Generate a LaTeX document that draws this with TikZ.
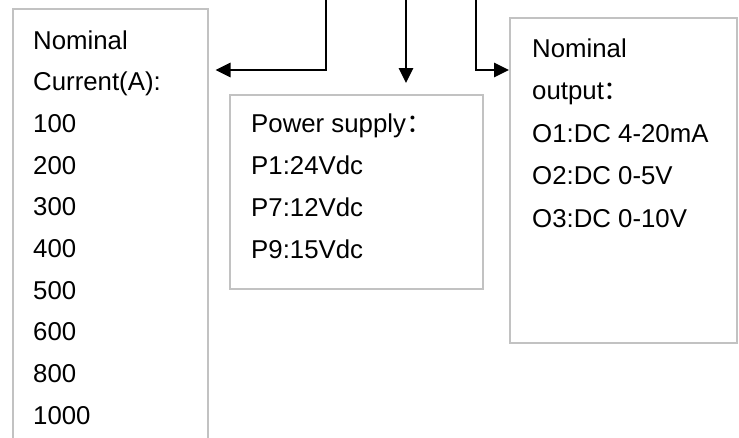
\documentclass[tikz,border=0pt]{standalone}
\usepackage{fontspec}
\setmainfont{Liberation Sans}
\newfontfamily\cjk{Noto Sans CJK SC}
\usetikzlibrary{arrows.meta}

\tikzset{
  infobox/.style={draw=black!24, line width=1.6pt, rectangle, inner sep=0pt, anchor=north west},
  boxtext/.style={anchor=base west, inner sep=0pt, font=\fontsize{25.8}{30}\selectfont},
  feed/.style={line width=1.7pt, -{Triangle[length=15pt, width=14.5pt]}}
}

\begin{document}
\begin{tikzpicture}[x=1pt, y=-1pt]

\useasboundingbox (0,0) rectangle (739,437);
\clip (0,0) rectangle (739,437);

% Boxes
\node[infobox, minimum width=195pt, minimum height=460pt] (cur) at (12,8) {};
\node[infobox, minimum width=253pt, minimum height=194pt] (pwr) at (229,94) {};
\node[infobox, minimum width=227pt, minimum height=325pt] (out) at (509,17) {};

% Labels
\foreach \txt [count=\i from 0] in {Nominal, Current(A):, 100, 200, 300, 400, 500, 600, 800, 1000}
  \node[boxtext] (cur-\i) at (33, 49+41.7*\i) {\txt};
\foreach \txt [count=\i from 0] in {Power supply{\cjk ：}, P1:24Vdc, P7:12Vdc, P9:15Vdc}
  \node[boxtext] (pwr-\i) at (251, 132+42.3*\i) {\txt};
\foreach \txt [count=\i from 0] in {Nominal, output{\cjk ：}, O1:DC 4-20mA, O2:DC 0-5V, O3:DC 0-10V}
  \node[boxtext] (out-\i) at (532, 57+42.5*\i) {\txt};

% Arrows
\coordinate (src1) at (326,-2);
\coordinate (src2) at (406,-2);
\coordinate (src3) at (476,-2);
\coordinate (bend1) at (326,70);
\coordinate (bend3) at (476,70);

\draw[feed] (src1) -- (bend1) -- ([xshift=7pt]cur.east |- bend1);
\draw[feed, shorten >=11pt] (src2) -- (src2 |- pwr.north);
\draw[feed] (src3) -- (bend3) -- (out.west |- bend3);

\end{tikzpicture}
\end{document}
